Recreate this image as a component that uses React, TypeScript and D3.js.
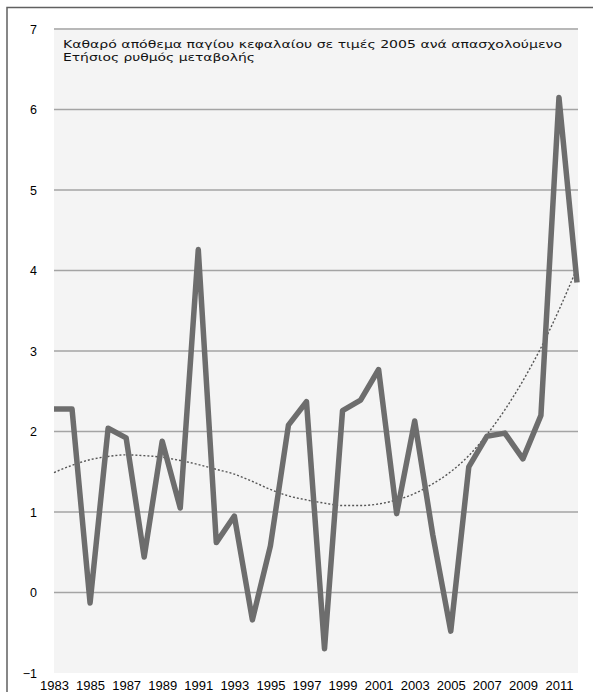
import { useEffect, useRef } from "react";
import * as d3 from "d3";

const years = [
  1983, 1984, 1985, 1986, 1987, 1988, 1989, 1990, 1991, 1992, 1993, 1994, 1995, 1996, 1997,
  1998, 1999, 2000, 2001, 2002, 2003, 2004, 2005, 2006, 2007, 2008, 2009, 2010, 2011, 2012,
];

const values = [
  2.28, 2.28, -0.13, 2.04, 1.92, 0.44, 1.88, 1.05, 4.26, 0.62, 0.95, -0.34, 0.58, 2.08, 2.37,
  -0.7, 2.26, 2.39, 2.77, 0.98, 2.13, 0.72, -0.48, 1.56, 1.94, 1.98, 1.66, 2.2, 6.15, 3.85,
];

// polynomial trend line
const trend = [
  1.49, 1.58, 1.65, 1.69, 1.71, 1.7, 1.68, 1.64, 1.59, 1.53, 1.47, 1.38, 1.28, 1.2, 1.15,
  1.11, 1.08, 1.08, 1.1, 1.15, 1.23, 1.35, 1.5, 1.7, 1.96, 2.27, 2.63, 3.04, 3.51, 4.03,
];

const yTicks = [-1, 0, 1, 2, 3, 4, 5, 6, 7];
const xTicks = [1983, 1985, 1987, 1989, 1991, 1993, 1995, 1997, 1999, 2001, 2003, 2005, 2007, 2009, 2011];

const titleLines = [
  "Καθαρό απόθεμα παγίου κεφαλαίου σε τιμές 2005 ανά απασχολούμενο",
  "Ετήσιος ρυθμός μεταβολής",
];

export default function App() {
  const ref = useRef<SVGSVGElement>(null);

  useEffect(() => {
    if (!ref.current) return;
    const width = 593;
    const height = 692;
    const plot = { left: 54, right: 578, top: 28, bottom: 673 };

    const svg = d3.select(ref.current);
    svg.selectAll("*").remove();

    svg.append("rect").attr("width", width).attr("height", height).attr("fill", "#ffffff");

    // outer frame (top and left edges visible)
    svg
      .append("path")
      .attr("d", `M7,${height} L7,7.5 L${width},7.5`)
      .attr("fill", "none")
      .attr("stroke", "#606060")
      .attr("stroke-width", 1.5);

    const x = d3.scaleLinear().domain([1983, 2012]).range([plot.left, 577]);
    const y = d3.scaleLinear().domain([-1, 7]).range([plot.bottom, 29]);

    svg
      .append("rect")
      .attr("x", plot.left)
      .attr("y", plot.top)
      .attr("width", plot.right - plot.left)
      .attr("height", plot.bottom - plot.top)
      .attr("fill", "#f4f4f4");

    svg
      .append("g")
      .selectAll("line")
      .data(yTicks.filter((t) => t > -1))
      .enter()
      .append("line")
      .attr("x1", plot.left)
      .attr("x2", plot.right)
      .attr("y1", (d) => y(d))
      .attr("y2", (d) => y(d))
      .attr("stroke", "#a4a4a4")
      .attr("stroke-width", 1.6);

    const title = svg
      .append("text")
      .attr("font-family", "DejaVu Sans, Verdana, sans-serif")
      .attr("font-size", "11px")
      .attr("fill", "#111");
    titleLines.forEach((line, i) => {
      title
        .append("tspan")
        .attr("x", 63)
        .attr("y", 48 + i * 13)
        .attr("textLength", i === 0 ? 499 : 192)
        .attr("lengthAdjust", "spacingAndGlyphs")
        .text(line);
    });

    const trendLine = d3
      .line<number>()
      .x((_, i) => x(years[i]))
      .y((d) => y(d))
      .curve(d3.curveMonotoneX);

    svg
      .append("path")
      .datum(trend)
      .attr("d", trendLine)
      .attr("fill", "none")
      .attr("stroke", "#555555")
      .attr("stroke-width", 1.4)
      .attr("stroke-dasharray", "2,2");

    const valueLine = d3
      .line<number>()
      .x((_, i) => x(years[i]))
      .y((d) => y(d));

    svg
      .append("path")
      .datum(values)
      .attr("d", valueLine)
      .attr("fill", "none")
      .attr("stroke", "#6d6d6d")
      .attr("stroke-width", 5.5)
      .attr("stroke-linejoin", "round");

    const yAxis = svg
      .append("g")
      .attr("transform", `translate(${plot.left},0)`)
      .call(d3.axisLeft(y).tickValues(yTicks).tickSize(0).tickPadding(17).tickFormat(d3.format("d")));
    yAxis.select(".domain").remove();
    yAxis
      .selectAll("text")
      .attr("font-family", "Liberation Sans, Arial, sans-serif")
      .attr("font-size", "12.5px")
      .attr("fill", "#000");

    const xAxis = svg
      .append("g")
      .attr("transform", `translate(0,${plot.bottom})`)
      .call(d3.axisBottom(x).tickValues(xTicks).tickSize(0).tickPadding(8).tickFormat(d3.format("d")));
    xAxis.select(".domain").remove();
    xAxis
      .selectAll("text")
      .attr("font-family", "Liberation Sans, Arial, sans-serif")
      .attr("font-size", "13px")
      .attr("fill", "#000");
  }, []);

  return (
    <svg
      ref={ref}
      width={593}
      height={692}
      style={{ position: "absolute", left: 0, top: 0, display: "block" }}
    />
  );
}
